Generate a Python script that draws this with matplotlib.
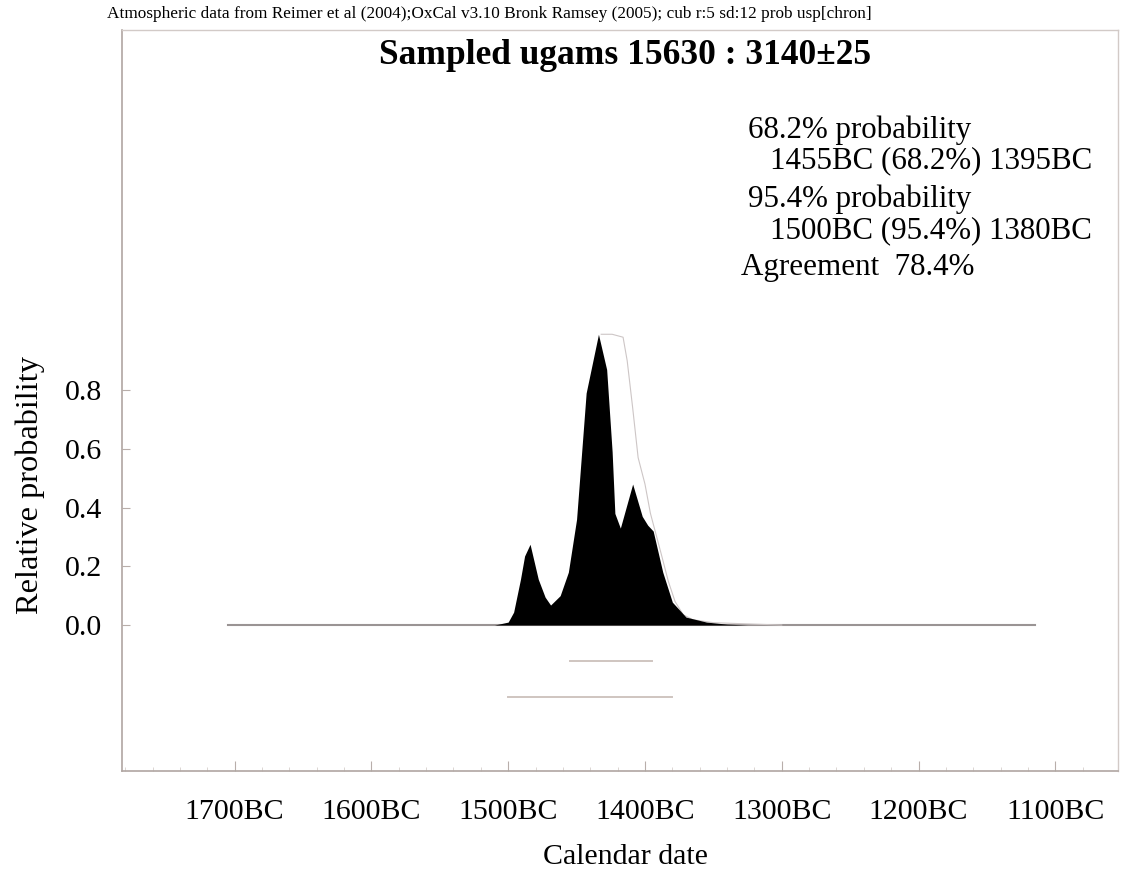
import matplotlib
matplotlib.use("Agg")
import matplotlib.pyplot as plt
import numpy as np

plt.rcParams['font.family'] = ['Liberation Serif', 'DejaVu Serif']

# posterior (calendar year BC, relative probability)
post_years = [1510, 1500, 1496, 1491, 1488, 1484, 1478, 1473, 1469, 1462, 1456,
              1450, 1443, 1434, 1428, 1424, 1422, 1418, 1409, 1402, 1398, 1394,
              1387, 1380, 1370, 1355, 1340, 1325]
post_prob = [0.0, 0.01, 0.044, 0.156, 0.235, 0.275, 0.156, 0.095, 0.068, 0.10, 0.18,
             0.36, 0.79, 0.99, 0.87, 0.59, 0.38, 0.33, 0.48, 0.37, 0.34, 0.32,
             0.18, 0.078, 0.027, 0.01, 0.003, 0.0]

# unmodelled likelihood outline
prior_years = [1432, 1424, 1416, 1413, 1409, 1405, 1400, 1396, 1392, 1388, 1383,
               1378, 1372, 1365, 1350, 1320, 1300]
prior_prob = [0.99, 0.99, 0.98, 0.9, 0.74, 0.57, 0.48, 0.38, 0.31, 0.24, 0.15,
              0.08, 0.035, 0.018, 0.008, 0.003, 0.0]

# highest probability ranges
ranges = [(1455, 1395), (1500, 1380)]
range_levels = [-0.122, -0.244]

base_span = (1705, 1115)
xticks = [1700, 1600, 1500, 1400, 1300, 1200, 1100]
xticklabels = ['%dBC' % y for y in xticks]
yticks = [0.0, 0.2, 0.4, 0.6, 0.8]

W, H = 1125, 871
fig = plt.figure(figsize=(W / 100, H / 100), dpi=100)
ax = fig.add_axes([122 / W, 1 - 771 / H, (1118 - 122) / W, (771 - 30) / H])

ax.plot(base_span, [0, 0], color='#9a9494', lw=1.5, zorder=1)
ax.plot(prior_years, prior_prob, color='#cdc6c6', lw=0.8, zorder=2)
ax.fill_between(post_years, post_prob, 0, color='black', lw=0, zorder=3)
for (a, b), lev in zip(ranges, range_levels):
    ax.plot([a, b], [lev, lev], color='#cfc5c0', lw=1.4, zorder=2)

ax.set_xlim(1782.3, 1054.2)
ax.set_ylim(-0.497, 2.026)

ax.set_xticks(xticks)
ax.set_xticklabels(xticklabels, fontsize=21.5)
ax.set_xticks(np.arange(1780, 1060, -20), minor=True)
ax.set_yticks(yticks)
ax.set_yticklabels(['%.1f' % v for v in yticks], fontsize=21.5)
ax.tick_params(axis='x', which='major', direction='in', length=7, color='#b8aeaa', pad=20)
ax.tick_params(axis='x', which='minor', direction='in', length=3, color='#d6cecb')
ax.tick_params(axis='y', direction='in', length=6, color='#b8aeaa', pad=14)

for side in ['left', 'bottom']:
    ax.spines[side].set_color('#b0a6a2')
    ax.spines[side].set_linewidth(1.2)
for side in ['top', 'right']:
    ax.spines[side].set_color('#d2cac7')
    ax.spines[side].set_linewidth(1.0)

ax.set_xlabel('Calendar date', fontsize=21.5)
ax.xaxis.set_label_coords((625 - 122) / 996, -(857 - 771) / 741)
ax.xaxis.label.set_va('center')
ax.set_ylabel('Relative probability', fontsize=23.3)
ax.yaxis.set_label_coords(-(122 - 30) / 996, (771 - 485) / 741)
ax.yaxis.label.set_va('center')

fig.text(107 / W, 1 - 14 / H,
         'Atmospheric data from Reimer et al (2004);OxCal v3.10 Bronk Ramsey (2005); cub r:5 sd:12 prob usp[chron]',
         fontsize=12.4, va='center', ha='left')
fig.text(625 / W, 1 - 55 / H, 'Sampled ugams 15630 : 3140\u00b125',
         fontsize=25.5, fontweight='bold', ha='center', va='center')

stats = [
    (748, 130, '68.2% probability'),
    (770, 161, '1455BC (68.2%) 1395BC'),
    (748, 199, '95.4% probability'),
    (770, 231, '1500BC (95.4%) 1380BC'),
    (741, 268, 'Agreement  78.4%'),
]
for x, y, s in stats:
    fig.text(x / W, 1 - y / H, s, fontsize=22.3, ha='left', va='center')

fig.savefig('out.png', dpi=100)
